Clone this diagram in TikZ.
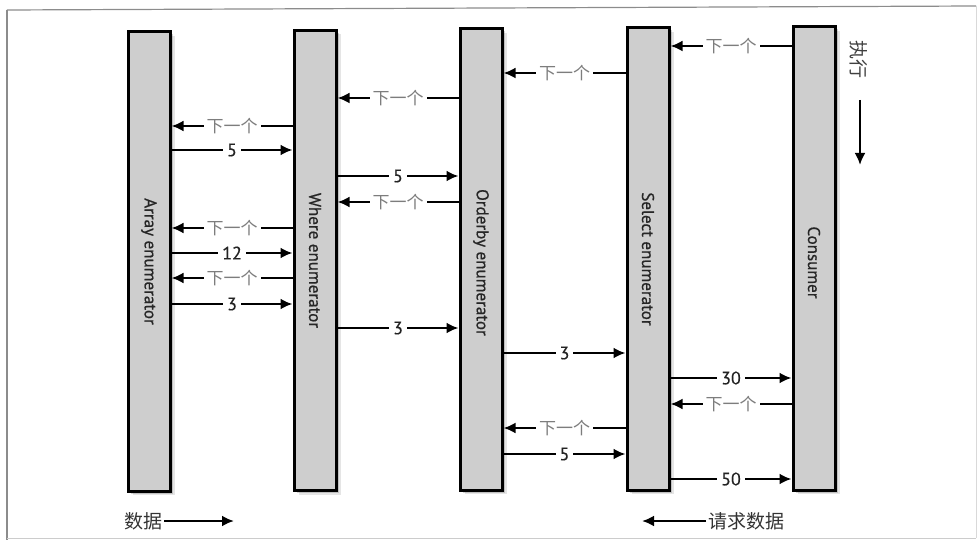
\documentclass[tikz,border=0pt]{standalone}
\usepackage{fontspec}
\setmainfont{PT Sans}
\newfontfamily\cjk{Noto Sans CJK SC}
\usetikzlibrary{arrows.meta}
\definecolor{colfill}{RGB}{206,206,206}
\definecolor{nxt}{RGB}{125,125,125}
\definecolor{num}{RGB}{35,35,35}
\tikzset{
  col/.style={draw=black, line width=3pt, fill=colfill, minimum width=42pt, inner sep=0pt,
    preaction={fill=black, opacity=0.10, transform canvas={shift={(5pt,-4pt)}}},
    preaction={fill=black, opacity=0.16, transform canvas={shift={(3pt,-2.5pt)}}}},
  collabel/.style={rotate=-90, font=\fontsize{17}{17}\selectfont\addfontfeature{FakeBold=0.7}, text=black!85},
  arr/.style={line width=2.4pt, -{Latex[length=12pt,width=11pt]}},
  nextlbl/.style={fill=white, inner sep=3pt, text=nxt, font=\cjk\fontsize{17}{17}\selectfont},
  numlbl/.style={fill=white, inner sep=4pt, text=num, font=\fontsize{18}{18}\selectfont\addfontfeature{FakeBold=0.4}},
}
\begin{document}
\begin{tikzpicture}[x=1pt,y=-1pt]
\useasboundingbox (0,0) rectangle (980,540);
\draw[black!45, line width=1.2pt] (7,10) -- (976,6);
\draw[black!45, line width=1.2pt] (7,10) -- (7,540);
\draw[black!20, line width=0.8pt] (7,538) -- (976,538);
\draw[black!15, line width=0.8pt] (976,6) -- (976,538);

% columns
\node[col, minimum height=459pt] (A) at (149,261.5) {};
\node[col, minimum height=460pt] (W) at (315,260.5) {};
\node[col, minimum height=461pt] (O) at (481,259.5) {};
\node[col, minimum height=462pt] (S) at (648,259) {};
\node[col, minimum height=463pt] (C) at (814,258.5) {};
\node[collabel] (Al) at (A.center) {Array enumerator};
\node[collabel] (Wl) at (W.center) {Where enumerator};
\node[collabel] (Ol) at ([yshift=-3pt]O.center) {Orderby enumerator};
\node[collabel] (Sl) at (S.center) {Select enumerator};
\node[collabel] (Cl) at ([yshift=-4pt]C.center) {Consumer};

% Array <-> Where
\draw[arr] (W.west |- 0,126) -- node[nextlbl]{下一个} (A.east |- 0,126);
\draw[arr] (A.east |- 0,150) -- node[numlbl]{5} (W.west |- 0,150);
\draw[arr] (W.west |- 0,228) -- node[nextlbl]{下一个} (A.east |- 0,228);
\draw[arr] (A.east |- 0,253) -- node[numlbl]{12} (W.west |- 0,253);
\draw[arr] (W.west |- 0,278) -- node[nextlbl]{下一个} (A.east |- 0,278);
\draw[arr] (A.east |- 0,304) -- node[numlbl]{3} (W.west |- 0,304);

% Where <-> Orderby
\draw[arr] (O.west |- 0,98) -- node[nextlbl]{下一个} (W.east |- 0,98);
\draw[arr] (W.east |- 0,176) -- node[numlbl]{5} (O.west |- 0,176);
\draw[arr] (O.west |- 0,202) -- node[nextlbl]{下一个} (W.east |- 0,202);
\draw[arr] (W.east |- 0,328) -- node[numlbl]{3} (O.west |- 0,328);

% Orderby <-> Select
\draw[arr] (S.west |- 0,73) -- node[nextlbl]{下一个} (O.east |- 0,73);
\draw[arr] (O.east |- 0,353) -- node[numlbl]{3} (S.west |- 0,353);
\draw[arr] (S.west |- 0,428) -- node[nextlbl]{下一个} (O.east |- 0,428);
\draw[arr] (O.east |- 0,454) -- node[numlbl]{5} (S.west |- 0,454);

% Select <-> Consumer
\draw[arr] (C.west |- 0,46) -- node[nextlbl]{下一个} (S.east |- 0,46);
\draw[arr] (S.east |- 0,378) -- node[numlbl]{30} (C.west |- 0,378);
\draw[arr] (C.west |- 0,404) -- node[nextlbl]{下一个} (S.east |- 0,404);
\draw[arr] (S.east |- 0,479) -- node[numlbl]{50} (C.west |- 0,479);

% legend: execution
\node[rotate=-90, text=black!75, font=\cjk\fontsize{19}{19}\selectfont] (exec) at (859,60) {执行};
\coordinate (execEnd) at (860,165);
\draw[arr] (860,100) -- (execEnd);

% bottom legends
\node[text=black!80, font=\cjk\fontsize{19}{19}\selectfont, anchor=west, inner sep=2pt] (data) at (122,521) {数据};
\coordinate (dataEnd) at (234,521);
\draw[arr] (data.east) -- (dataEnd);
\node[text=black!80, font=\cjk\fontsize{19}{19}\selectfont, anchor=west, inner sep=2pt] (req) at (706,521) {请求数据};
\coordinate (reqEnd) at (642,521);
\draw[arr] (req.west) -- (reqEnd);
\end{tikzpicture}
\end{document}
